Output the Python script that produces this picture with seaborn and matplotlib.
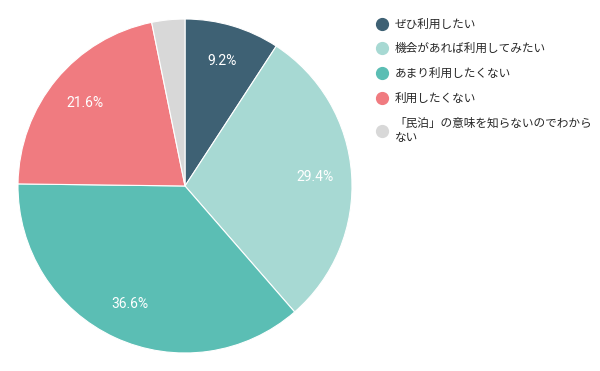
import matplotlib
matplotlib.use("Agg")
import matplotlib.pyplot as plt
from matplotlib.lines import Line2D
import numpy as np
import seaborn as sns

labels = [
    "ぜひ利用したい",
    "機会があれば利用してみたい",
    "あまり利用したくない",
    "利用したくない",
    "「民泊」の意味を知らないのでわから\nない",
]
values = [9.2, 29.4, 36.6, 21.6, 3.2]
pct_labels = ["9.2%", "29.4%", "36.6%", "21.6%", ""]
colors = ["#3e6174", "#a7d9d3", "#5bbeb4", "#f07b80", "#d8d8d8"]

sns.set_theme(style="white")
plt.rcParams["font.family"] = ["Noto Sans CJK JP", "DejaVu Sans"]

fig = plt.figure(figsize=(6, 3.71), dpi=100)
ax = fig.add_axes([18 / 600, (371 - 186 - 167) / 371, 334 / 600, 334 / 371])
wedges, _ = ax.pie(
    values,
    colors=sns.color_palette(colors),
    startangle=90,
    counterclock=False,
    wedgeprops=dict(linewidth=0.8, edgecolor="white"),
)
for w, txt in zip(wedges, pct_labels):
    if not txt:
        continue
    ang = np.deg2rad((w.theta1 + w.theta2) / 2)
    ax.text(0.78 * np.cos(ang), 0.78 * np.sin(ang), txt, ha="center", va="center",
            color="white", fontsize=10, family=["Roboto", "DejaVu Sans"])
ax.set_xlim(-1, 1)
ax.set_ylim(-1, 1)
ax.set_aspect("equal")
ax.axis("off")

handles = [Line2D([], [], marker="o", linestyle="", markersize=8.5,
                  markerfacecolor=c, markeredgecolor=c) for c in colors]
fig.legend(handles, labels, loc="upper left", bbox_to_anchor=(370 / 600, 1 - 13 / 371),
           frameon=False, fontsize=8.4, handletextpad=0.5, labelspacing=1.0,
           handlelength=1.2, borderaxespad=0)

fig.savefig("out.png", dpi=100)
